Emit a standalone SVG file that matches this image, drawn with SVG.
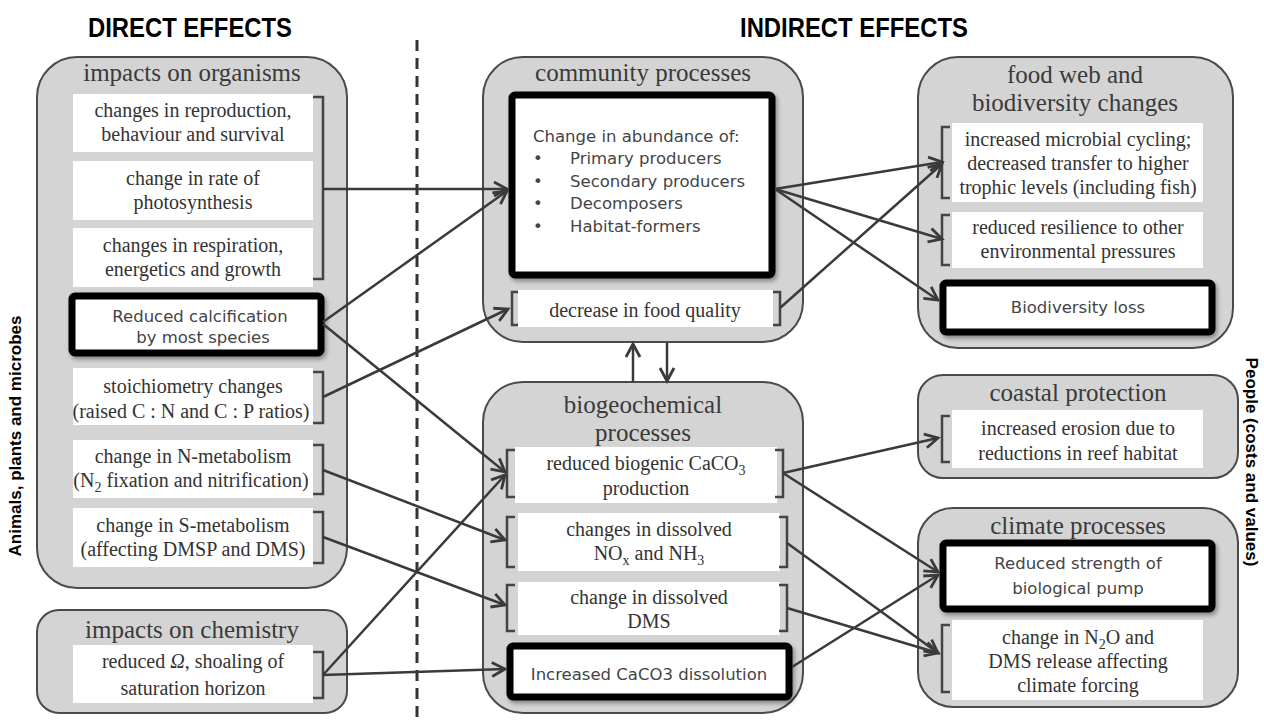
<svg xmlns="http://www.w3.org/2000/svg" width="1264" height="724" viewBox="0 0 1264 724">
  <defs>
    <marker id="arrow" markerUnits="userSpaceOnUse" markerWidth="18" markerHeight="18" refX="15" refY="9" orient="auto">
      <path d="M2,2 L15,9 L2,16" fill="none" stroke="#3a3a3a" stroke-width="2.8" stroke-linejoin="miter"/>
    </marker>
    <filter id="shadow" x="-10%" y="-10%" width="125%" height="130%">
      <feDropShadow dx="2" dy="3" stdDeviation="2" flood-color="#000" flood-opacity="0.35"/>
    </filter>
  </defs>
  <style>
    .panel { fill: #d4d4d4; stroke: #4a4a4a; stroke-width: 2; }
    .item { fill: #ffffff; stroke: none; }
    .key { fill: #ffffff; stroke: #000000; stroke-width: 7; filter: url(#shadow); }
    .bracket { fill: none; stroke: #444444; stroke-width: 2.5; }
    .title { font-family: "Liberation Serif", "Times New Roman", serif; font-size: 25px; fill: #3a3a3a; text-anchor: middle; }
    .body { font-family: "Liberation Serif", "Times New Roman", serif; font-size: 20px; fill: #333333; text-anchor: middle; }
    .hand { font-family: "DejaVu Sans", "Liberation Sans", sans-serif; font-size: 16.5px; fill: #444444; }
    .head { font-family: "Liberation Sans", Arial, sans-serif; font-weight: bold; font-size: 27px; fill: #000000; text-anchor: middle; }
    .side { font-family: "Liberation Sans", Arial, sans-serif; font-weight: bold; font-size: 17px; fill: #000000; text-anchor: middle; }
    .link { fill: none; stroke: #3a3a3a; stroke-width: 2.5; marker-end: url(#arrow); }
    .sub { font-size: 14px; }
  </style>

  <rect width="1264" height="724" fill="#ffffff"/>

  <!-- headings and side labels -->
  <text class="head" x="190" y="37" textLength="204" lengthAdjust="spacingAndGlyphs">DIRECT EFFECTS</text>
  <text class="head" x="854" y="37" textLength="228" lengthAdjust="spacingAndGlyphs">INDIRECT EFFECTS</text>
  <text class="side" transform="translate(21,436) rotate(-90)">Animals, plants and microbes</text>
  <text class="side" transform="translate(1246,462) rotate(90)">People (costs and values)</text>

  <!-- divider between direct and indirect effects -->
  <line x1="417" y1="40" x2="417" y2="724" stroke="#333333" stroke-width="3" stroke-dasharray="11,7"/>

  <!-- impacts on organisms -->
  <g id="organisms">
    <rect class="panel" x="37" y="57" width="310" height="531" rx="40"/>
    <text class="title" x="192" y="81">impacts on organisms</text>
    <rect class="item" x="73" y="94" width="240" height="58"/>
    <text class="body" x="193" y="117">changes in reproduction,</text>
    <text class="body" x="193" y="141">behaviour and survival</text>
    <rect class="item" x="73" y="161" width="240" height="59"/>
    <text class="body" x="193" y="185">change in rate of</text>
    <text class="body" x="193" y="209">photosynthesis</text>
    <rect class="item" x="73" y="228" width="240" height="59"/>
    <text class="body" x="193" y="252">changes in respiration,</text>
    <text class="body" x="193" y="276">energetics and growth</text>
    <path class="bracket" d="M313,97 H323 V279 H313"/>
    <rect class="key" x="72" y="296" width="249" height="57" rx="3"/>
    <text class="hand" x="200" y="322" text-anchor="middle">Reduced calcification</text>
    <text class="hand" x="203" y="343" text-anchor="middle">by most species</text>
    <rect class="item" x="73" y="368" width="240" height="57"/>
    <text class="body" x="193" y="393">stoichiometry changes</text>
    <text class="body" x="191" y="418">(raised C : N and C : P ratios)</text>
    <path class="bracket" d="M313,372 H323 V423 H313"/>
    <rect class="item" x="73" y="440" width="240" height="58"/>
    <text class="body" x="193" y="463">change in N-metabolism</text>
    <text class="body" x="191" y="487">(N<tspan class="sub" dy="5">2</tspan><tspan dy="-5"> fixation and nitrification)</tspan></text>
    <path class="bracket" d="M313,445 H323 V494 H313"/>
    <rect class="item" x="73" y="508" width="240" height="59"/>
    <text class="body" x="193" y="532">change in S-metabolism</text>
    <text class="body" x="193" y="556">(affecting DMSP and DMS)</text>
    <path class="bracket" d="M313,512 H323 V563 H313"/>
  </g>

  <!-- impacts on chemistry -->
  <g id="chemistry">
    <rect class="panel" x="37" y="610" width="310" height="103" rx="22"/>
    <text class="title" x="192" y="638">impacts on chemistry</text>
    <rect class="item" x="73" y="645" width="240" height="58"/>
    <text class="body" x="193" y="668">reduced <tspan font-style="italic">Ω</tspan>, shoaling of</text>
    <text class="body" x="193" y="695">saturation horizon</text>
    <path class="bracket" d="M313,652 H323 V698 H313"/>
  </g>

  <!-- community processes -->
  <g id="community">
    <rect class="panel" x="483" y="57" width="320" height="285" rx="40"/>
    <text class="title" x="643" y="81">community processes</text>
    <rect class="key" x="512" y="95" width="260" height="180" rx="3"/>
    <text class="hand" x="533" y="142">Change in abundance of:</text>
    <text class="hand" x="533" y="164">•</text>
    <text class="hand" x="570" y="164">Primary producers</text>
    <text class="hand" x="533" y="187">•</text>
    <text class="hand" x="570" y="187">Secondary producers</text>
    <text class="hand" x="533" y="209">•</text>
    <text class="hand" x="570" y="209">Decomposers</text>
    <text class="hand" x="533" y="232">•</text>
    <text class="hand" x="570" y="232">Habitat-formers</text>
    <rect class="item" x="518" y="290" width="255" height="37"/>
    <text class="body" x="645" y="317">decrease in food quality</text>
    <path class="bracket" d="M518,292 H512 V325 H518"/>
    <path class="bracket" d="M773,292 H780 V325 H773"/>
  </g>

  <!-- biogeochemical processes -->
  <g id="biogeochemical">
    <rect class="panel" x="483" y="382" width="320" height="331" rx="40"/>
    <text class="title" x="643" y="413">biogeochemical</text>
    <text class="title" x="643" y="441">processes</text>
    <rect class="item" x="515" y="447" width="262" height="56"/>
    <text class="body" x="646" y="470">reduced biogenic CaCO<tspan class="sub" dy="5">3</tspan></text>
    <text class="body" x="646" y="495">production</text>
    <path class="bracket" d="M515,450 H507 V497 H515"/>
    <path class="bracket" d="M775,450 H783 V497 H775"/>
    <rect class="item" x="518" y="513" width="262" height="58"/>
    <text class="body" x="649" y="536">changes in dissolved</text>
    <text class="body" x="649" y="560">NO<tspan class="sub" dy="5">x</tspan><tspan dy="-5"> and NH</tspan><tspan class="sub" dy="5">3</tspan></text>
    <path class="bracket" d="M515,517 H507 V567 H515"/>
    <path class="bracket" d="M779,517 H787 V567 H779"/>
    <rect class="item" x="518" y="582" width="262" height="53"/>
    <text class="body" x="649" y="604">change in dissolved</text>
    <text class="body" x="649" y="628">DMS</text>
    <path class="bracket" d="M515,585 H507 V631 H515"/>
    <path class="bracket" d="M779,585 H787 V631 H779"/>
    <rect class="key" x="510" y="646" width="279" height="51" rx="3"/>
    <text class="hand" x="649" y="680" text-anchor="middle">Increased CaCO3 dissolution</text>
  </g>

  <!-- food web and biodiversity changes -->
  <g id="foodweb">
    <rect class="panel" x="918" y="57" width="315" height="291" rx="40"/>
    <text class="title" x="1075" y="83">food web and</text>
    <text class="title" x="1075" y="111">biodiversity changes</text>
    <rect class="item" x="952" y="123" width="251" height="79"/>
    <text class="body" x="1078" y="146">increased microbial cycling;</text>
    <text class="body" x="1078" y="170">decreased transfer to higher</text>
    <text class="body" x="1078" y="194">trophic levels (including fish)</text>
    <path class="bracket" d="M950,127 H942 V198 H950"/>
    <rect class="item" x="952" y="212" width="251" height="56"/>
    <text class="body" x="1078" y="234">reduced resilience to other</text>
    <text class="body" x="1078" y="258">environmental pressures</text>
    <path class="bracket" d="M950,215 H942 V265 H950"/>
    <rect class="key" x="943" y="283" width="269" height="49" rx="3"/>
    <text class="hand" x="1078" y="313" text-anchor="middle">Biodiversity loss</text>
  </g>

  <!-- coastal protection -->
  <g id="coastal">
    <rect class="panel" x="918" y="375" width="320" height="103" rx="25"/>
    <text class="title" x="1078" y="401">coastal protection</text>
    <rect class="item" x="952" y="410" width="251" height="58"/>
    <text class="body" x="1078" y="435">increased erosion due to</text>
    <text class="body" x="1078" y="460">reductions in reef habitat</text>
    <path class="bracket" d="M950,416 H942 V462 H950"/>
  </g>

  <!-- climate processes -->
  <g id="climate">
    <rect class="panel" x="918" y="508" width="320" height="199" rx="35"/>
    <text class="title" x="1078" y="534">climate processes</text>
    <rect class="key" x="943" y="543" width="269" height="66" rx="3"/>
    <text class="hand" x="1078" y="569" text-anchor="middle">Reduced strength of</text>
    <text class="hand" x="1078" y="594" text-anchor="middle">biological pump</text>
    <rect class="item" x="952" y="620" width="251" height="80"/>
    <text class="body" x="1078" y="644">change in N<tspan class="sub" dy="5">2</tspan><tspan dy="-5">O and</tspan></text>
    <text class="body" x="1078" y="668">DMS release affecting</text>
    <text class="body" x="1078" y="692">climate forcing</text>
    <path class="bracket" d="M950,625 H942 V692 H950"/>
  </g>

  <!-- connectors -->
  <g id="connectors">
    <path class="link" d="M323,189 L507,189"/>
    <path class="link" d="M323,322 L507,191"/>
    <path class="link" d="M323,324 L505,472"/>
    <path class="link" d="M323,397 L508,309"/>
    <path class="link" d="M323,470 L505,540"/>
    <path class="link" d="M323,537 L505,605"/>
    <path class="link" d="M323,675 L505,475"/>
    <path class="link" d="M323,675 L505,669"/>
    <path class="link" d="M775,189 L942,162"/>
    <path class="link" d="M775,189 L942,239"/>
    <path class="link" d="M775,189 L938,300"/>
    <path class="link" d="M780,308 L942,164"/>
    <path class="link" d="M783,473 L938,438"/>
    <path class="link" d="M783,473 L938,572"/>
    <path class="link" d="M787,543 L938,653"/>
    <path class="link" d="M787,608 L938,653"/>
    <path class="link" d="M792,667 L938,575"/>
    <path class="link" d="M633,382 L633,344"/>
    <path class="link" d="M667,343 L667,381"/>
  </g>
</svg>
